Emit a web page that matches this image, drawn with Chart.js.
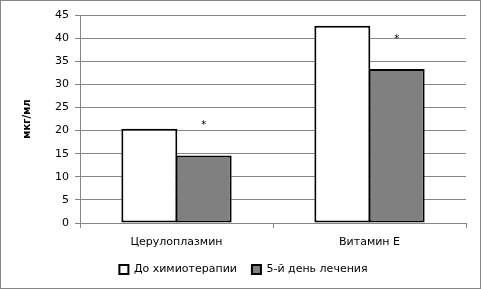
<!DOCTYPE html>
<html><head><meta charset="utf-8">
<script src="https://cdn.jsdelivr.net/npm/chart.js@4"></script>
<style>html,body{margin:0;padding:0;background:#fff}#wrap{width:481px;height:289px;position:relative}</style>
</head><body><div id="wrap"><canvas id="c" width="481" height="289"></canvas></div>
<script>
const categories = ['Церулоплазмин', 'Витамин Е'];
const seriesNames = ['До химиотерапии', '5-й день лечения'];
const beforeValues = [20.4, 42.7];
const day5Values = [14.6, 33.3];
const markers = ['*', '*'];
const yTicks = [0, 5, 10, 15, 20, 25, 30, 35, 40, 45];

const FONT = 'DejaVu Sans';
const borderPlugin = {
  id: 'frame',
  afterDraw(chart) {
    const ctx = chart.ctx;
    ctx.save();
    ctx.strokeStyle = '#868686';
    ctx.lineWidth = 1;
    ctx.strokeRect(0.5, 0.5, chart.width - 1, chart.height - 1);
    const meta = chart.getDatasetMeta(1);
    ctx.fillStyle = '#000';
    ctx.font = '10px ' + FONT;
    ctx.textAlign = 'center';
    ctx.textBaseline = 'middle';
    meta.data.forEach((bar, i) => {
      if (markers[i]) ctx.fillText(markers[i], bar.x, bar.y - 30);
    });
    ctx.restore();
  }
};

new Chart(document.getElementById('c'), {
  type: 'bar',
  data: {
    labels: categories,
    datasets: [
      { label: seriesNames[0], data: beforeValues, backgroundColor: '#ffffff', borderColor: '#000000', borderWidth: 2, borderSkipped: false },
      { label: seriesNames[1], data: day5Values, backgroundColor: '#808080', borderColor: '#000000', borderWidth: 2, borderSkipped: false }
    ]
  },
  options: {
    responsive: false,
    animation: false,
    events: [],
    layout: { padding: { top: 15, right: 15, left: 21, bottom: 4 } },
    datasets: { bar: { categoryPercentage: 0.563, barPercentage: 1.03 } },
    plugins: {
      legend: {
        position: 'bottom',
        labels: { font: { family: FONT, size: 11 }, color: '#000', boxWidth: 9, boxHeight: 9, padding: 15 }
      },
      tooltip: { enabled: false }
    },
    scales: {
      x: {
        grid: { drawOnChartArea: false, drawTicks: true, tickLength: 5, color: '#868686', offset: true },
        border: { color: '#868686' },
        ticks: { font: { family: FONT, size: 11 }, color: '#000', padding: 8 },
        afterFit(s) { s.height = 26; }
      },
      y: {
        min: 0, max: 45,
        afterBuildTicks(s) { s.ticks = yTicks.map(v => ({ value: v })); },
        grid: { color: '#868686', tickLength: 5 },
        border: { color: '#868686' },
        ticks: { font: { family: FONT, size: 11 }, color: '#000', padding: 6 },
        title: { display: true, text: 'мкг/мл', font: { family: FONT, size: 10, weight: 'bold' }, color: '#000', padding: 0 },
        afterFit(s) { s.width = 59; }
      }
    }
  },
  plugins: [borderPlugin]
});
</script></body></html>
